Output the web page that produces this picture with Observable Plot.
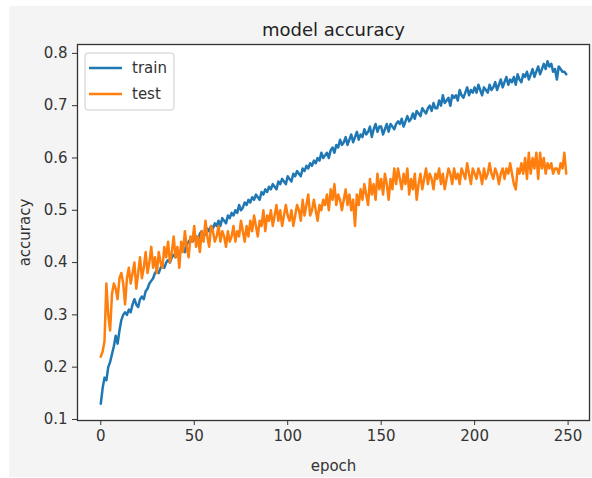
<!DOCTYPE html>
<html><head><meta charset="utf-8">
<script src="https://cdn.jsdelivr.net/npm/d3@7"></script>
<script src="https://cdn.jsdelivr.net/npm/@observablehq/plot@0.6"></script>
<style>body{margin:0;background:#fff;} #chart svg{display:block;}</style>
</head><body><div id="chart"></div>
<script>
const train = [
0.13,0.16,0.18,0.175,0.20,0.21,0.225,0.24,0.26,0.245,
0.27,0.29,0.30,0.305,0.30,0.31,0.305,0.32,0.33,0.32,
0.315,0.33,0.335,0.33,0.345,0.35,0.36,0.365,0.37,0.38,
0.385,0.38,0.39,0.395,0.39,0.40,0.405,0.40,0.41,0.415,
0.41,0.42,0.415,0.425,0.43,0.42,0.435,0.44,0.445,0.44,
0.445,0.45,0.44,0.455,0.46,0.45,0.455,0.465,0.46,0.47,
0.465,0.475,0.47,0.48,0.47,0.485,0.48,0.475,0.49,0.485,
0.495,0.49,0.50,0.495,0.51,0.50,0.505,0.515,0.51,0.52,
0.515,0.525,0.52,0.53,0.525,0.52,0.535,0.53,0.54,0.535,
0.545,0.54,0.55,0.545,0.54,0.555,0.55,0.56,0.555,0.55,
0.565,0.56,0.555,0.57,0.565,0.575,0.57,0.565,0.58,0.575,
0.585,0.58,0.59,0.585,0.595,0.59,0.60,0.595,0.61,0.60,
0.605,0.61,0.60,0.615,0.62,0.61,0.625,0.62,0.635,0.625,
0.63,0.64,0.625,0.635,0.645,0.63,0.64,0.65,0.635,0.645,
0.64,0.655,0.645,0.65,0.66,0.64,0.655,0.665,0.65,0.66,
0.66,0.645,0.655,0.665,0.65,0.665,0.66,0.655,0.665,0.67,
0.665,0.675,0.66,0.67,0.68,0.67,0.675,0.685,0.675,0.69,
0.685,0.68,0.695,0.69,0.685,0.695,0.70,0.69,0.705,0.695,
0.695,0.71,0.70,0.72,0.705,0.71,0.715,0.70,0.72,0.715,
0.72,0.71,0.73,0.72,0.715,0.725,0.735,0.72,0.73,0.725,
0.735,0.725,0.74,0.73,0.72,0.735,0.73,0.725,0.74,0.73,
0.735,0.745,0.73,0.74,0.75,0.735,0.745,0.755,0.74,0.75,
0.745,0.755,0.74,0.76,0.75,0.745,0.76,0.755,0.765,0.75,
0.76,0.77,0.755,0.765,0.775,0.76,0.77,0.78,0.77,0.785,
0.775,0.78,0.765,0.77,0.75,0.775,0.77,0.765,0.765,0.76
];
const test = [
0.22,0.23,0.25,0.36,0.30,0.27,0.34,0.36,0.35,0.33,
0.37,0.38,0.36,0.32,0.37,0.39,0.36,0.38,0.40,0.35,
0.38,0.41,0.37,0.39,0.42,0.38,0.40,0.43,0.39,0.41,
0.38,0.42,0.40,0.39,0.43,0.41,0.44,0.40,0.42,0.45,
0.41,0.43,0.39,0.44,0.42,0.46,0.43,0.41,0.45,0.44,
0.47,0.43,0.45,0.42,0.46,0.44,0.48,0.45,0.43,0.47,
0.46,0.44,0.45,0.47,0.44,0.46,0.45,0.43,0.46,0.44,
0.45,0.47,0.44,0.46,0.45,0.48,0.46,0.44,0.47,0.45,
0.48,0.46,0.49,0.47,0.45,0.48,0.47,0.50,0.46,0.49,
0.48,0.50,0.47,0.49,0.51,0.48,0.50,0.47,0.49,0.51,
0.49,0.48,0.50,0.47,0.49,0.51,0.50,0.48,0.52,0.49,
0.51,0.53,0.49,0.50,0.52,0.50,0.48,0.51,0.50,0.52,
0.51,0.53,0.50,0.54,0.52,0.55,0.51,0.53,0.52,0.50,
0.52,0.54,0.51,0.53,0.50,0.52,0.47,0.53,0.51,0.54,
0.52,0.55,0.53,0.51,0.56,0.53,0.55,0.52,0.57,0.54,
0.56,0.53,0.57,0.55,0.52,0.56,0.54,0.58,0.55,0.58,
0.56,0.54,0.57,0.55,0.58,0.53,0.56,0.54,0.57,0.52,
0.55,0.57,0.54,0.56,0.58,0.55,0.57,0.56,0.54,0.57,
0.56,0.58,0.55,0.57,0.54,0.56,0.58,0.57,0.55,0.58,
0.56,0.57,0.55,0.58,0.57,0.56,0.59,0.57,0.55,0.58,
0.57,0.56,0.58,0.57,0.55,0.58,0.56,0.57,0.59,0.57,
0.56,0.58,0.57,0.55,0.57,0.58,0.56,0.58,0.57,0.59,
0.57,0.55,0.54,0.58,0.57,0.59,0.57,0.60,0.56,0.61,
0.57,0.60,0.58,0.61,0.56,0.61,0.58,0.60,0.57,0.59,
0.58,0.59,0.57,0.58,0.58,0.57,0.59,0.58,0.61,0.57
];
const seriesNames = ["train", "test"];
const seriesColors = ["#1f77b4", "#ff7f0e"];
const xTicks = [0, 50, 100, 150, 200, 250];
const yTicks = [0.1, 0.2, 0.3, 0.4, 0.5, 0.6, 0.7, 0.8];
const titleText = "model accuracy";
const xLabel = "epoch";
const yLabel = "accuracy";

const rows = [
  ...train.map((v, i) => ({epoch: i, acc: v, series: seriesNames[0]})),
  ...test.map((v, i) => ({epoch: i, acc: v, series: seriesNames[1]}))
];

const font = "'DejaVu Sans', sans-serif";
const chart = Plot.plot({
  width: 592, height: 478,
  marginLeft: 77, marginRight: 3, marginTop: 44, marginBottom: 58,
  style: {fontFamily: font, fontSize: "15px", color: "#333", background: "transparent", overflow: "visible"},
  x: {domain: [-12.45, 261.45]},
  y: {domain: [0.098, 0.817]},
  color: {domain: seriesNames, range: seriesColors},
  marks: [
    Plot.frame({fill: "white", stroke: null}),
    Plot.line(rows, {x: "epoch", y: "acc", stroke: "series", z: "series", strokeWidth: 2.5, strokeLinejoin: "round"}),
    Plot.frame({stroke: "#333", strokeWidth: 1.3}),
    Plot.axisX({ticks: xTicks, tickSize: 5, tickPadding: 5, fontSize: 15, label: xLabel, labelArrow: "none", labelAnchor: "center", labelOffset: 50}),
    Plot.axisY({ticks: yTicks, tickSize: 5, tickPadding: 5, fontSize: 15, tickFormat: d3.format(".1f"), label: yLabel, labelArrow: "none", labelAnchor: "center", labelOffset: 58}),
    Plot.text([titleText], {text: d => d, frameAnchor: "top", dy: -21, fontSize: 18, fill: "#222"})
  ]
});

const svg = d3.select(chart);
svg.insert("rect", ":first-child")
  .attr("x", 9).attr("y", 6).attr("width", 583).attr("height", 471)
  .attr("fill", "#f4f4f4");

// legend (upper left, like matplotlib)
const lg = svg.append("g").attr("transform", "translate(85,53)");
lg.append("rect").attr("width", 89).attr("height", 57).attr("rx", 3)
  .attr("fill", "white").attr("fill-opacity", 0.85).attr("stroke", "#ccc");
seriesNames.forEach((name, i) => {
  const yy = 15 + i * 26;
  lg.append("line").attr("x1", 4).attr("x2", 37).attr("y1", yy).attr("y2", yy)
    .attr("stroke", seriesColors[i]).attr("stroke-width", 2.5);
  lg.append("text").attr("x", 47).attr("y", yy).attr("dy", "0.35em")
    .attr("text-anchor", "start")
    .attr("font-family", font).attr("font-size", 15).attr("fill", "#333").text(name);
});

document.getElementById("chart").appendChild(chart);
</script>
</body></html>
